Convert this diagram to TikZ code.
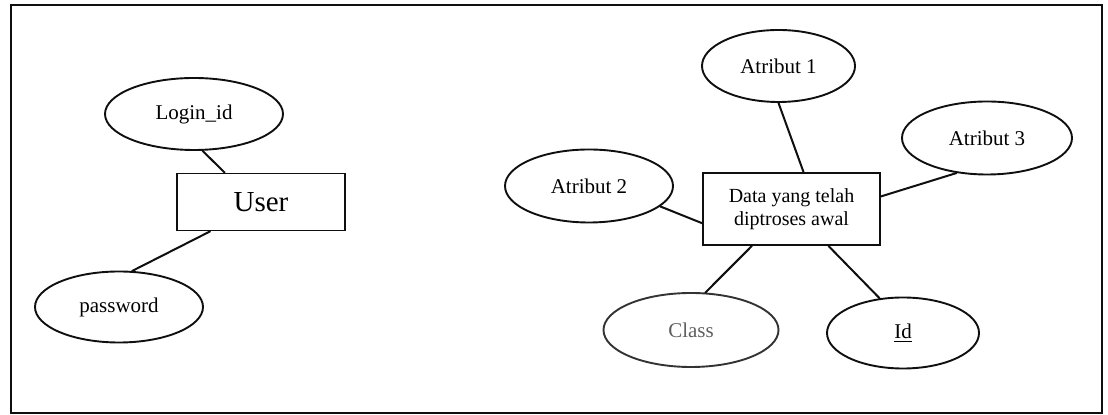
\documentclass[tikz,border=0pt]{standalone}
\usepackage{fontspec}
\setmainfont{Liberation Serif}
\usetikzlibrary{shapes.geometric}
\definecolor{inkc}{RGB}{15,15,15}
\definecolor{fadec}{RGB}{95,95,95}

\begin{document}
\begin{tikzpicture}[x=0.5pt, y=-0.5pt, line cap=round,
    attr/.style={ellipse, draw=inkc, line width=0.95pt, inner sep=0pt,
      font=\fontsize{10.5}{12}\selectfont},
    entity/.style={rectangle, draw=inkc, line width=0.95pt, inner sep=0pt},
    link/.style={draw=inkc, line width=1pt}]
  \useasboundingbox (0,0) rectangle (1108,415);

  % outer frame
  \draw[inkc, line width=1.1pt] (11,5) rectangle (1102,413);

  % left entity and its attributes
  \node[entity, minimum width=84pt, minimum height=28.5pt,
        font=\fontsize{14.5}{16}\selectfont] (user) at (261,202) {User};
  \node[attr, minimum width=89pt, minimum height=36pt] (login) at (194,114) {Login\_id};
  \node[attr, minimum width=84pt, minimum height=35.5pt] (pass) at (119,307) {password};

  \draw[link] (login.-77) -- (user.141);
  \draw[link] (user.210) -- (pass.70);

  % right entity and its attributes
  \node[entity, minimum width=88.5pt, minimum height=36pt, align=center,
        font=\fontsize{10}{11.5}\selectfont] (data) at (791.5,209)
        {Data yang telah\\diptroses awal};
  \node[attr, minimum width=76.5pt, minimum height=36pt] (atr1) at (778.5,66) {Atribut 1};
  \node[attr, minimum width=84pt, minimum height=36.5pt] (atr2) at (589,186) {Atribut 2};
  \node[attr, minimum width=85pt, minimum height=36.5pt] (atr3) at (987,138) {Atribut 3};
  \node[attr, draw=black!80, text=fadec, minimum width=87.5pt, minimum height=37pt]
        (cls) at (691,330) {Class};
  \node[attr, minimum width=76pt, minimum height=35.5pt] (idn) at (903,333) {\underline{Id}};

  \draw[link] (atr1.-90) -- (data.72);
  \draw[link] (atr2.-16) -- (data.189);
  \draw[link] (atr3.229) -- (data.8);
  \draw[link] (cls.69) -- (data.223);
  \draw[link] (idn.124) -- (data.-45);
\end{tikzpicture}
\end{document}
